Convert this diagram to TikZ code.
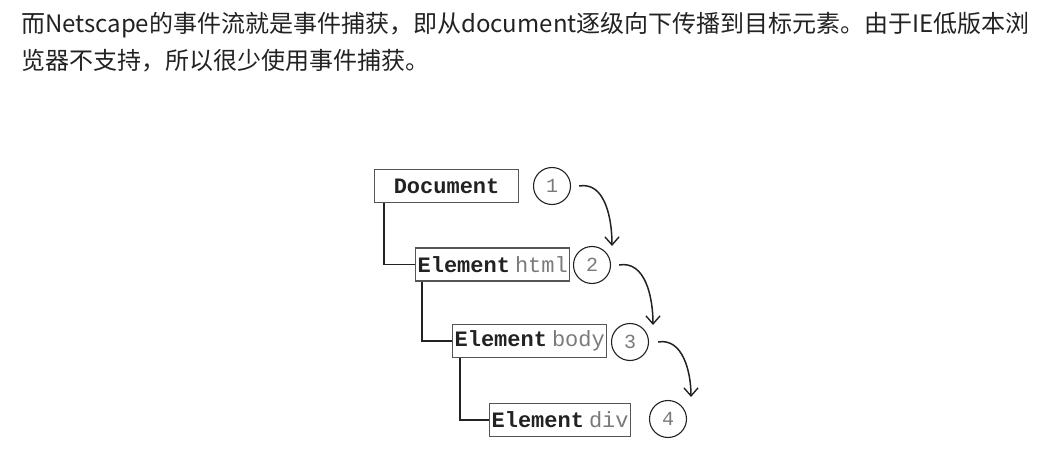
\documentclass[tikz,border=0pt]{standalone}
\usepackage{fontspec}
\setmainfont{Noto Sans CJK SC}
\setmonofont{Liberation Mono}
\usetikzlibrary{arrows.meta}
\definecolor{inkdark}{HTML}{222222}
\definecolor{boxline}{HTML}{555555}
\definecolor{tagname}{HTML}{7A7A7A}

\begin{document}
\begin{tikzpicture}[x=1pt,y=1pt,
  elembox/.style={draw=boxline, line width=1.2pt, anchor=west, inner sep=2pt,
    minimum height=33pt, font=\fontsize{22}{22}\selectfont\ttfamily, text=inkdark},
  stepnum/.style={circle, draw=inkdark, line width=1.1pt, minimum size=37pt, inner sep=0pt,
    font=\fontsize{20}{20}\selectfont\ttfamily, text=tagname},
  tree/.style={draw=inkdark, line width=1.6pt},
  flow/.style={draw=inkdark, line width=1.5pt, -{Straight Barb[length=8pt,width=14pt,line width=1.4pt]}}]
  \useasboundingbox (0,0) rectangle (1063,-465);

  % Intro text
  \node[anchor=base west, inner sep=0pt, text=inkdark, font=\fontsize{24}{24}\selectfont] (line1) at (21,-33)
    {而Netscape的事件流就是事件捕获，即从document逐级向下传播到目标元素。由于IE低版本浏};
  \node[anchor=base west, inner sep=0pt, text=inkdark, font=\fontsize{24}{24}\selectfont] (line2) at (21,-70)
    {览器不支持，所以很少使用事件捕获。};

  % The DOM tree
  \node[elembox, minimum width=144pt] (doc) at (374,-186) {\textbf{Document}};
  \node[elembox] (html) at (415,-264.5) {\textbf{Element}\hspace{5pt}\textcolor{tagname}{html}};
  \node[elembox] (body) at (452,-341) {\textbf{Element}\hspace{5pt}\textcolor{tagname}{body}};
  \node[elembox] (div) at (489,-420) {\textbf{Element}\hspace{5pt}\textcolor{tagname}{div}};

  \draw[tree] ([xshift=10pt]doc.south west) |- (html.west);
  \draw[tree] ([xshift=7pt]html.south west) |- (body.west);
  \draw[tree] ([xshift=8pt]body.south west) |- (div.west);

  % Capture order
  \node[stepnum] (c1) at (552,-186) {1};
  \node[stepnum] (c2) at (592,-265) {2};
  \node[stepnum] (c3) at (630,-342) {3};
  \node[stepnum] (c4) at (668,-419) {4};

  \draw[flow] ([xshift=8pt]c1.east) to[out=10,in=90] ([xshift=20pt,yshift=19pt]c2.center);
  \draw[flow] ([xshift=8pt]c2.east) to[out=10,in=90] ([xshift=23pt,yshift=17pt]c3.center);
  \draw[flow] ([xshift=9pt]c3.east) to[out=10,in=90] ([xshift=23pt,yshift=22pt]c4.center);
\end{tikzpicture}
\end{document}
